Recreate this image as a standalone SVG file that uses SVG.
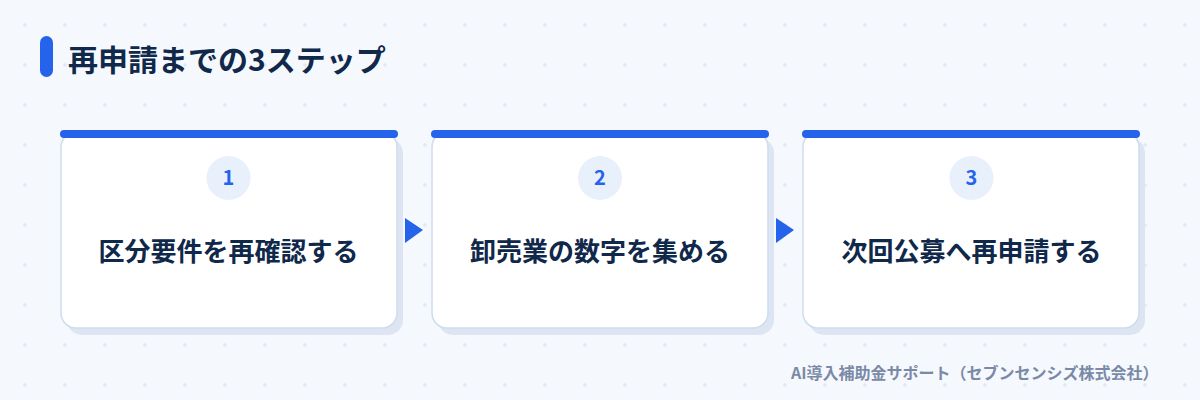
<svg xmlns="http://www.w3.org/2000/svg" width="1200" height="400" viewBox="0 0 1200 400">
<defs>
<pattern id="grid" x="5" y="5" width="40" height="40" patternUnits="userSpaceOnUse">
<path d="M20 18v4M18 20h4" stroke="#dbe3ee" stroke-width="1"/>
</pattern>
<style>
.t{font-family:"Noto Sans CJK JP","Noto Sans",sans-serif;font-weight:700}
.title{font-size:30px;fill:#10284a}
.lbl{font-size:26px;fill:#10284a;text-anchor:middle}
.num{font-size:20px;fill:#2563eb;text-anchor:middle}
.foot{font-size:16px;fill:#7a8aa6}
.shadow{fill:#dce5f1}
.card{fill:#ffffff;stroke:#cfdcee;stroke-width:1.5}
.bar{fill:#2563eb}
.badge{fill:#e8f0fc}
.arr{fill:#2563eb}
</style>
</defs>
<rect width="1200" height="400" fill="#f5f8fd"/>
<rect width="1200" height="400" fill="url(#grid)"/>
<g id="title">
<rect x="40" y="36" width="13" height="41" rx="6.5" fill="#2563eb"/>
<text class="t title" x="68" y="71">再申請までの3ステップ</text>
</g>
<g id="step1">
<rect class="shadow" x="67" y="138" width="336" height="197" rx="15"/>
<rect class="card" x="61" y="132" width="336" height="196" rx="15"/>
<rect class="bar" x="60" y="130" width="338" height="8" rx="4"/>
<circle class="badge" cx="228.5" cy="178" r="22"/>
<text class="t num" x="228.5" y="185">1</text>
<text class="t lbl" x="228.5" y="261">区分要件を再確認する</text>
</g>
<g id="step2">
<rect class="shadow" x="438" y="138" width="336" height="197" rx="15"/>
<rect class="card" x="432" y="132" width="336" height="196" rx="15"/>
<rect class="bar" x="431" y="130" width="338" height="8" rx="4"/>
<circle class="badge" cx="600" cy="178" r="22"/>
<text class="t num" x="600" y="185">2</text>
<text class="t lbl" x="600" y="261">卸売業の数字を集める</text>
</g>
<g id="step3">
<rect class="shadow" x="809" y="138" width="336" height="197" rx="15"/>
<rect class="card" x="803" y="132" width="336" height="196" rx="15"/>
<rect class="bar" x="802" y="130" width="338" height="8" rx="4"/>
<circle class="badge" cx="971.5" cy="178" r="22"/>
<text class="t num" x="971.5" y="185">3</text>
<text class="t lbl" x="971.5" y="261">次回公募へ再申請する</text>
</g>
<g id="connectors">
<polygon class="arr" points="405,218 423,230 405,243"/>
<polygon class="arr" points="776,218 794,230 776,243"/>
</g>
<text class="t foot" x="791" y="379">AI導入補助金サポート（セブンセンシズ株式会社）</text>
</svg>
